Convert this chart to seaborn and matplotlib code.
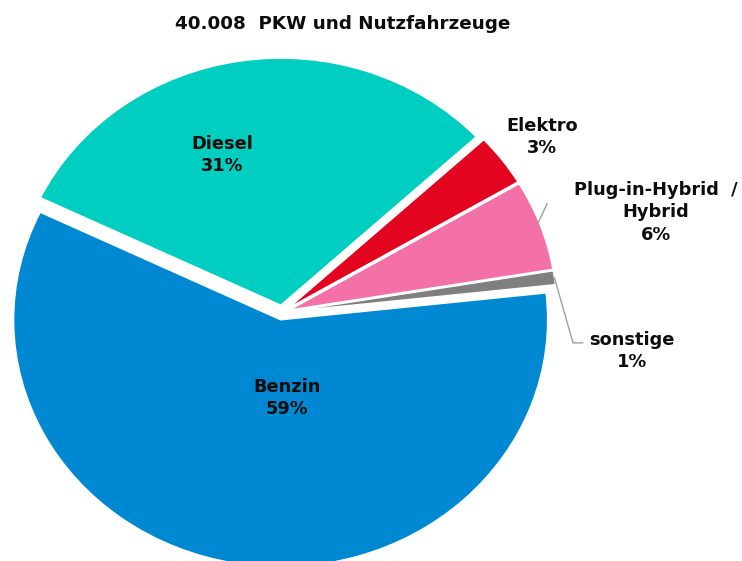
import numpy as np
import matplotlib
matplotlib.use("Agg")
import matplotlib.pyplot as plt
import seaborn as sns

# ---- data ----
categories = ["Benzin", "sonstige", "Plug-in-Hybrid  /\nHybrid", "Elektro", "Diesel"]
shares = [58.9, 0.9, 5.9, 3.4, 30.9]
colors = ["#0089D2", "#7F7F7F", "#F471A8", "#E3051F", "#00CEC0"]
explode = [0.03, 0.03, 0.03, 0.03, 0.03]
title = "40.008  PKW und Nutzfahrzeuge"

sns.set_theme(style="white")
plt.rcParams["font.family"] = ["DejaVu Sans"]

fig = plt.figure(figsize=(7.42, 5.61), dpi=100)
ax = fig.add_axes([0, 0, 1, 1])

wedges, _ = ax.pie(shares, explode=explode, colors=colors, startangle=154.2,
                   counterclock=True, radius=1.0,
                   wedgeprops=dict(edgecolor="white", linewidth=1.0))
ax.set_aspect("auto")
ax.set_xlim(-282 / 267, 460 / 267)
ax.set_ylim(-(561 - 312.5) / 247, 312.5 / 247)
ax.axis("off")

txt = dict(ha="center", va="center", fontsize=12.8, fontweight="bold",
           color="#0D0D0D", linespacing=1.3)

def lab(i):
    return f"{categories[i]}\n{round(shares[i]):d}%"

label_pos = {0: (0.019, -0.346), 4: (-0.225, 0.638), 3: (0.974, 0.711),
             2: (1.401, 0.405), 1: (1.311, -0.156)}
for i, (x, y) in label_pos.items():
    ax.text(x, y, lab(i), **txt)

def edge_point(w, r=1.0):
    ang = np.deg2rad((w.theta1 + w.theta2) / 2)
    cx, cy = w.center
    return cx + r * w.r * np.cos(ang), cy + r * w.r * np.sin(ang)

lc = "#A0A0A0"
# Plug-in leader
p0 = edge_point(wedges[2], 0.985)
ax.plot([p0[0], 0.993], [p0[1], 0.441], color=lc, lw=1.0)
# sonstige leader
p1 = edge_point(wedges[1], 1.0)
ax.plot([p1[0], 1.090, 1.127], [p1[1], -0.123, -0.123], color=lc, lw=1.0)

fig.text(343 / 742, 1 - 24 / 561, title, ha="center", va="center",
         fontsize=13.2, fontweight="bold", color="#0D0D0D")

fig.savefig("out.png", dpi=100, facecolor="white")
